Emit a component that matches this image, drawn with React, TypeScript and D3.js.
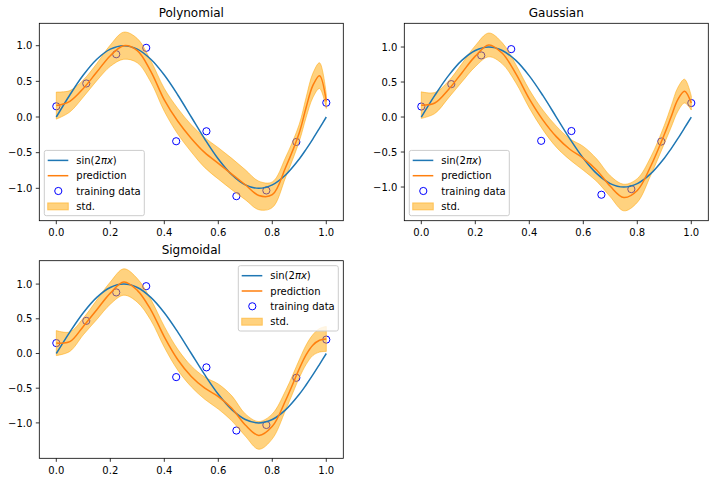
import React from "react";
import * as d3 from "d3";

const GRID_X = [0, 0.05, 0.1, 0.15, 0.2, 0.25, 0.3, 0.35, 0.4, 0.45, 0.5, 0.55, 0.6, 0.65, 0.7, 0.75, 0.8, 0.85, 0.9, 0.925, 0.95, 0.975, 1.0];
const SIN_Y = [0, 0.309, 0.588, 0.809, 0.951, 1, 0.951, 0.809, 0.588, 0.309, 0, -0.309, -0.588, -0.809, -0.951, -1, -0.951, -0.809, -0.588, -0.454, -0.309, -0.156, 0];

const TRAIN_X = [0, 0.111, 0.222, 0.333, 0.444, 0.556, 0.667, 0.778, 0.889, 1.0];
const TRAIN_Y = [0.15, 0.47, 0.88, 0.97, -0.34, -0.2, -1.11, -1.03, -0.35, 0.2];

const POLY_MEAN = [0.16, 0.22, 0.4, 0.63, 0.86, 1.0, 0.93, 0.64, 0.24, -0.06, -0.3, -0.5, -0.65, -0.8, -0.95, -1.1, -1.09, -0.7, -0.22, 0.13, 0.44, 0.58, 0.22];
const POLY_STD = [0.19, 0.15, 0.12, 0.12, 0.15, 0.19, 0.17, 0.15, 0.16, 0.18, 0.19, 0.21, 0.22, 0.22, 0.21, 0.2, 0.18, 0.14, 0.12, 0.14, 0.17, 0.18, 0.1];

const GAUSS_MEAN = [0.17, 0.2, 0.39, 0.63, 0.87, 1.03, 0.91, 0.62, 0.26, -0.04, -0.28, -0.46, -0.59, -0.76, -0.99, -1.15, -1.05, -0.7, -0.25, 0.0, 0.25, 0.37, 0.2];
const GAUSS_STD = [0.19, 0.15, 0.12, 0.13, 0.15, 0.17, 0.15, 0.13, 0.13, 0.14, 0.15, 0.15, 0.17, 0.16, 0.15, 0.19, 0.17, 0.13, 0.13, 0.15, 0.17, 0.17, 0.1];

const SIG_MEAN = [0.15, 0.17, 0.39, 0.63, 0.87, 1.03, 0.91, 0.63, 0.24, -0.09, -0.33, -0.5, -0.62, -0.79, -1.03, -1.18, -1.05, -0.67, -0.22, -0.02, 0.12, 0.19, 0.21];
const SIG_STD = [0.18, 0.14, 0.12, 0.14, 0.16, 0.19, 0.17, 0.15, 0.15, 0.15, 0.15, 0.16, 0.18, 0.18, 0.16, 0.2, 0.18, 0.14, 0.13, 0.14, 0.15, 0.17, 0.18];

const X_TICKS = [0, 0.2, 0.4, 0.6, 0.8, 1.0];
const Y_TICKS = [-1.0, -0.5, 0.0, 0.5, 1.0];
const LEGEND_LABELS = ["sin(2πx)", "prediction", "training data", "std."];

const FONT = "DejaVu Sans, sans-serif";
const BLUE = "#1f77b4";
const ORANGE = "#ff7f0e";

const fmt = (v: number) => v.toFixed(1).replace("-", "\u2212");

type PanelProps = {
  left: number; top: number; w: number; h: number;
  yDomain: [number, number]; title: string;
  mean: number[]; std: number[]; legend: "ll" | "ur";
};

function Panel({ left, top, w, h, yDomain, title, mean, std, legend }: PanelProps) {
  const x = d3.scaleLinear().domain([-0.063, 1.063]).range([left, left + w]);
  const y = d3.scaleLinear().domain(yDomain).range([top + h, top]);
  const curve = d3.curveCatmullRom.alpha(0.5);
  const line = d3.line<number>().x((_, i) => x(GRID_X[i])).y((d) => y(d)).curve(curve);
  const area = d3.area<number>()
    .x((_, i) => x(GRID_X[i]))
    .y0((d, i) => y(d - std[i]))
    .y1((d, i) => y(d + std[i]))
    .curve(curve);
  const bottom = top + h;
  const lw = 100, lh = 65.3;
  const lx = legend === "ll" ? left + 5 : left + w - 5 - lw;
  const ly = legend === "ll" ? bottom - 5 - lh : top + 5;
  const rows = [10, 25.3, 40.6, 56];
  const clipId = `clip-${title}`;
  return (
    <g>
      <defs>
        <clipPath id={clipId}><rect x={left} y={top} width={w} height={h} /></clipPath>
      </defs>
      <g clipPath={`url(#${clipId})`}>
        {TRAIN_X.map((tx, i) => (
          <circle key={i} cx={x(tx)} cy={y(TRAIN_Y[i])} r={3.6} fill="none" stroke="#0000ff" strokeWidth={1} />
        ))}
        <path d={area(mean) || ""} fill="#ffa500" fillOpacity={0.5} stroke="#ffa500" strokeOpacity={0.5} strokeWidth={1} />
        <path d={line(SIN_Y) || ""} fill="none" stroke={BLUE} strokeWidth={1.5} />
        <path d={line(mean) || ""} fill="none" stroke={ORANGE} strokeWidth={1.5} />
      </g>
      <rect x={left} y={top} width={w} height={h} fill="none" stroke="#000" strokeWidth={0.8} />
      {X_TICKS.map((t) => (
        <g key={t}>
          <line x1={x(t)} x2={x(t)} y1={bottom} y2={bottom + 3.5} stroke="#000" strokeWidth={0.8} />
          <text x={x(t)} y={bottom + 15.3} textAnchor="middle" fontSize={10} fontFamily={FONT}>{fmt(t)}</text>
        </g>
      ))}
      {Y_TICKS.map((t) => (
        <g key={t}>
          <line x1={left - 3.5} x2={left} y1={y(t)} y2={y(t)} stroke="#000" strokeWidth={0.8} />
          <text x={left - 7} y={y(t) + 3.6} textAnchor="end" fontSize={10} fontFamily={FONT}>{fmt(t)}</text>
        </g>
      ))}
      <text x={left + w / 2} y={top - 6.5} textAnchor="middle" fontSize={12} fontFamily={FONT}>{title}</text>
      <g>
        <rect x={lx} y={ly} width={lw} height={lh} rx={2} fill="#fff" fillOpacity={0.8} stroke="#cccccc" strokeWidth={1} />
        <line x1={lx + 3.4} x2={lx + 24} y1={ly + rows[0]} y2={ly + rows[0]} stroke={BLUE} strokeWidth={1.5} />
        <line x1={lx + 3.4} x2={lx + 24} y1={ly + rows[1]} y2={ly + rows[1]} stroke={ORANGE} strokeWidth={1.5} />
        <circle cx={lx + 14} cy={ly + rows[2]} r={3.6} fill="none" stroke="#0000ff" strokeWidth={1} />
        <rect x={lx + 3.4} y={ly + rows[3] - 3.5} width={20.6} height={7} fill="#ffa500" fillOpacity={0.5} stroke="#ffa500" strokeOpacity={0.5} strokeWidth={1} />
        <text x={lx + 32} y={ly + rows[0] + 3.6} fontSize={10} fontFamily={FONT}>
          <tspan>sin(2</tspan><tspan fontStyle="italic">πx</tspan><tspan>)</tspan>
        </text>
        {LEGEND_LABELS.slice(1).map((lab, i) => (
          <text key={lab} x={lx + 32} y={ly + rows[i + 1] + 3.6} fontSize={10} fontFamily={FONT}>{lab}</text>
        ))}
      </g>
    </g>
  );
}

export default function App() {
  return (
    <div style={{ position: "fixed", left: 0, top: 0 }}>
      <svg width={715} height={482} style={{ display: "block", background: "#fff" }}>
        <Panel left={39.3} top={23.3} w={304} h={197.4} yDomain={[-1.454, 1.314]} title="Polynomial" mean={POLY_MEAN} std={POLY_STD} legend="ll" />
        <Panel left={404.3} top={23.3} w={304} h={197.4} yDomain={[-1.481, 1.339]} title="Gaussian" mean={GAUSS_MEAN} std={GAUSS_STD} legend="ll" />
        <Panel left={39.3} top={260.7} w={304} h={197.6} yDomain={[-1.51, 1.337]} title="Sigmoidal" mean={SIG_MEAN} std={SIG_STD} legend="ur" />
      </svg>
    </div>
  );
}
